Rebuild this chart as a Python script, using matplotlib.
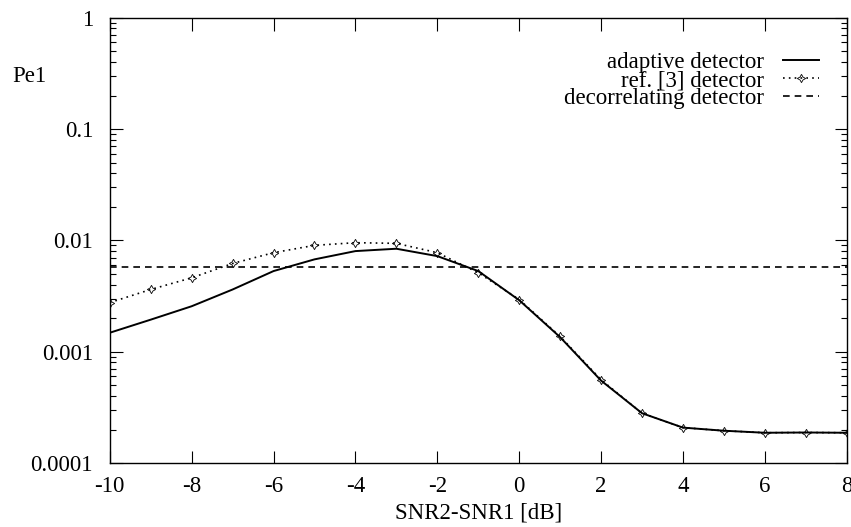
import matplotlib
matplotlib.use('Agg')
import matplotlib.pyplot as plt
from matplotlib.ticker import LogLocator, FixedLocator, NullFormatter

plt.rcParams['font.family'] = ['Liberation Serif', 'DejaVu Serif']
plt.rcParams['axes.unicode_minus'] = False

# значения
snr_diff = [-10, -9, -8, -7, -6, -5, -4, -3, -2, -1, 0, 1, 2, 3, 4, 5, 6, 7, 8]
pe_adaptive = [0.00148, 0.00194, 0.00256, 0.00362, 0.0053, 0.00675, 0.00801,
               0.00841, 0.00722, 0.0053, 0.0029, 0.00135, 0.00055, 0.00028,
               0.000208, 0.000195, 0.000187, 0.000188, 0.000187]
pe_ref3 = [0.00276, 0.00362, 0.00461, 0.0062, 0.00775, 0.00902, 0.00953,
           0.0094, 0.00775, 0.00512, 0.00294, 0.00137, 0.00056, 0.00028,
           0.000208, 0.000195, 0.000187, 0.000188, 0.000187]
pe_decorr = 0.00575

x_ticks = [-10, -8, -6, -4, -2, 0, 2, 4, 6, 8]
y_ticks = [0.0001, 0.001, 0.01, 0.1, 1]
y_labels = ['0.0001', '0.001', '0.01', '0.1', '1']

fs = 16.5
fig = plt.figure(figsize=(8.51, 5.27), dpi=100)
ax = fig.add_axes([0.129, 0.1214, 0.866, 0.845])

ax.plot(snr_diff, pe_adaptive, color='black', lw=1.4, label='adaptive detector')
ax.plot(snr_diff, pe_ref3, color='black', lw=1.2, ls=(0, (1, 2.5)),
        marker=(4, 1, 0), ms=6, mew=0.6, mfc='none', label='ref. [3] detector')
ax.axhline(pe_decorr, color='black', lw=1.2, ls=(0, (4, 3)),
           label='decorrelating detector')

ax.set_yscale('log')
ax.set_xlim(-10, 8)
ax.set_ylim(0.0001, 1)
ax.xaxis.set_major_locator(FixedLocator(x_ticks))
ax.set_yticks(y_ticks)
ax.set_yticklabels(y_labels)
ax.yaxis.set_minor_locator(LogLocator(base=10, subs=range(2, 10)))
ax.yaxis.set_minor_formatter(NullFormatter())
ax.tick_params(which='both', direction='in', top=True, right=True,
               labelsize=fs, width=0.8)
ax.tick_params(which='major', length=9)
ax.tick_params(which='minor', length=4)
ax.tick_params(axis='x', pad=9)
ax.tick_params(axis='y', pad=12)
for s in ax.spines.values():
    s.set_linewidth(1.0)

ax.set_xlabel('SNR2-SNR1 [dB]', fontsize=fs)
ax.xaxis.set_label_coords(0.5, -0.112)
ax.xaxis.label.set_va('center')
fig.text(0.014, 0.854, 'Pe1', fontsize=fs, va='center')

ax.legend(loc='upper right', frameon=False, markerfirst=False, fontsize=fs,
          handlelength=1.6, handletextpad=0.8, labelspacing=-0.15,
          borderpad=0, borderaxespad=0, bbox_to_anchor=(0.963, 0.922))

fig.savefig('out.png', dpi=100)
